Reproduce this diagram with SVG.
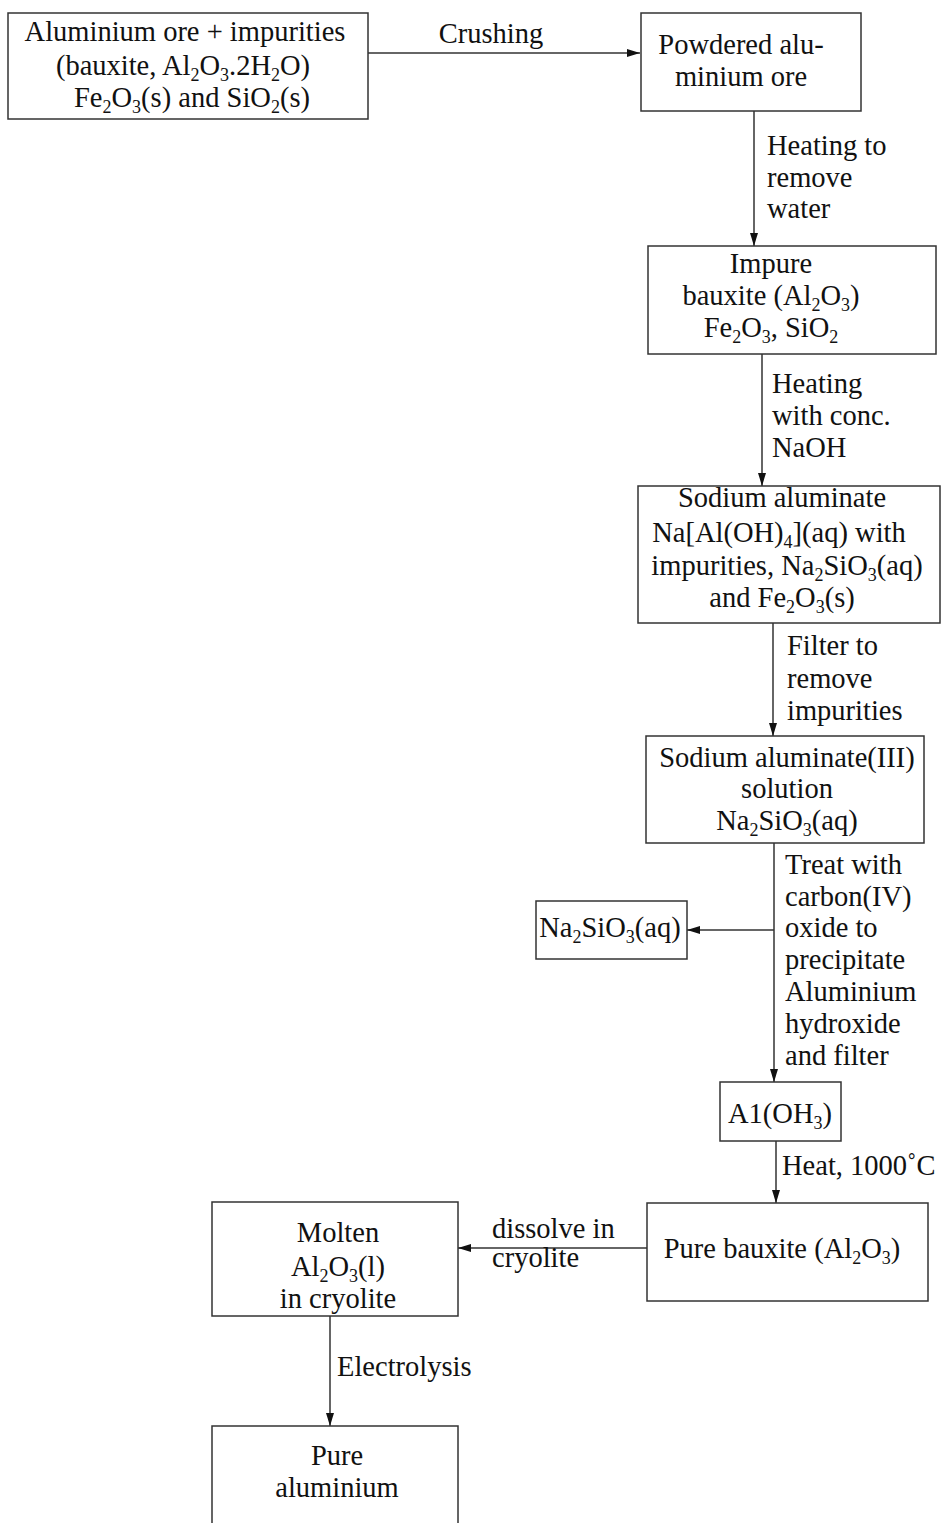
<svg xmlns="http://www.w3.org/2000/svg" width="942" height="1523" viewBox="0 0 942 1523">
<style>
text{font-family:"Liberation Serif","Times New Roman",serif;font-size:28.5px;fill:#111}
.c{text-anchor:middle}
.s{font-size:18px}
rect{fill:#fff;stroke:#333;stroke-width:1.5}
.ln{stroke:#333;stroke-width:1.5;fill:none;marker-end:url(#ah)}
</style>
<defs>
<marker id="ah" markerUnits="userSpaceOnUse" markerWidth="14" markerHeight="9" refX="13" refY="4" orient="auto">
<path d="M0,0 L13,4 L0,8 z" fill="#111"/>
</marker>
</defs>
<g id="connectors">
<line class="ln" x1="368" y1="53" x2="640" y2="53"/>
<line class="ln" x1="754" y1="111" x2="754" y2="246"/>
<line class="ln" x1="762" y1="354" x2="762" y2="486"/>
<line class="ln" x1="773" y1="623" x2="773" y2="736"/>
<line class="ln" x1="774" y1="843" x2="774" y2="1082"/>
<line class="ln" x1="774" y1="930" x2="687" y2="930"/>
<line class="ln" x1="776" y1="1141" x2="776" y2="1203"/>
<line class="ln" x1="647" y1="1248" x2="458" y2="1248"/>
<line class="ln" x1="330" y1="1316" x2="330" y2="1426"/>
<text x="491" y="43" class="c">Crushing</text>
<text x="767" y="155">Heating to</text>
<text x="767" y="187">remove</text>
<text x="767" y="218">water</text>
<text x="772" y="393">Heating</text>
<text x="772" y="425">with conc.</text>
<text x="772" y="457">NaOH</text>
<text x="787" y="655">Filter to</text>
<text x="787" y="688">remove</text>
<text x="787" y="720">impurities</text>
<text x="785" y="874">Treat with</text>
<text x="785" y="906">carbon(IV)</text>
<text x="785" y="937">oxide to</text>
<text x="785" y="969">precipitate</text>
<text x="785" y="1001">Aluminium</text>
<text x="785" y="1033">hydroxide</text>
<text x="785" y="1065">and filter</text>
<text x="782" y="1175">Heat, 1000˚C</text>
<text x="492" y="1238">dissolve in</text>
<text x="492" y="1267">cryolite</text>
<text x="337" y="1376">Electrolysis</text>
</g>
<g id="ore">
<rect x="8" y="13" width="360" height="106"/>
<text x="185" y="41" class="c">Aluminium ore + impurities</text>
<text x="183" y="75" class="c">(bauxite, Al<tspan class="s" dy="6">2</tspan><tspan dy="-6">O</tspan><tspan class="s" dy="6">3</tspan><tspan dy="-6">.2H</tspan><tspan class="s" dy="6">2</tspan><tspan dy="-6">O)</tspan></text>
<text x="192" y="107" class="c">Fe<tspan class="s" dy="6">2</tspan><tspan dy="-6">O</tspan><tspan class="s" dy="6">3</tspan><tspan dy="-6">(s) and SiO</tspan><tspan class="s" dy="6">2</tspan><tspan dy="-6">(s)</tspan></text>
</g>
<g id="powdered">
<rect x="641" y="13" width="220" height="98"/>
<text x="741" y="54" class="c">Powdered alu-</text>
<text x="741" y="86" class="c">minium ore</text>
</g>
<g id="impure">
<rect x="648" y="246" width="288" height="108"/>
<text x="771" y="273" class="c">Impure</text>
<text x="771" y="305" class="c">bauxite (Al<tspan class="s" dy="6">2</tspan><tspan dy="-6">O</tspan><tspan class="s" dy="6">3</tspan><tspan dy="-6">)</tspan></text>
<text x="771" y="337" class="c">Fe<tspan class="s" dy="6">2</tspan><tspan dy="-6">O</tspan><tspan class="s" dy="6">3</tspan><tspan dy="-6">, SiO</tspan><tspan class="s" dy="6">2</tspan></text>
</g>
<g id="aluminate">
<rect x="638" y="486" width="302" height="137"/>
<text x="782" y="507" class="c">Sodium aluminate</text>
<text x="779" y="542" class="c">Na[Al(OH)<tspan class="s" dy="6">4</tspan><tspan dy="-6">](aq) with</tspan></text>
<text x="787" y="575" class="c">impurities, Na<tspan class="s" dy="6">2</tspan><tspan dy="-6">SiO</tspan><tspan class="s" dy="6">3</tspan><tspan dy="-6">(aq)</tspan></text>
<text x="782" y="607" class="c">and Fe<tspan class="s" dy="6">2</tspan><tspan dy="-6">O</tspan><tspan class="s" dy="6">3</tspan><tspan dy="-6">(s)</tspan></text>
</g>
<g id="solution">
<rect x="646" y="736" width="278" height="107"/>
<text x="787" y="767" class="c">Sodium aluminate(III)</text>
<text x="787" y="798" class="c">solution</text>
<text x="787" y="830" class="c">Na<tspan class="s" dy="6">2</tspan><tspan dy="-6">SiO</tspan><tspan class="s" dy="6">3</tspan><tspan dy="-6">(aq)</tspan></text>
</g>
<g id="silicate">
<rect x="536" y="901" width="151" height="58"/>
<text x="610" y="937" class="c">Na<tspan class="s" dy="6">2</tspan><tspan dy="-6">SiO</tspan><tspan class="s" dy="6">3</tspan><tspan dy="-6">(aq)</tspan></text>
</g>
<g id="hydroxide">
<rect x="720" y="1082" width="121" height="59"/>
<text x="780" y="1123" class="c">A1(OH<tspan class="s" dy="6">3</tspan><tspan dy="-6">)</tspan></text>
</g>
<g id="pure-bauxite">
<rect x="647" y="1203" width="281" height="98"/>
<text x="782" y="1258" class="c">Pure bauxite (Al<tspan class="s" dy="6">2</tspan><tspan dy="-6">O</tspan><tspan class="s" dy="6">3</tspan><tspan dy="-6">)</tspan></text>
</g>
<g id="molten">
<rect x="212" y="1202" width="246" height="114"/>
<text x="338" y="1242" class="c">Molten</text>
<text x="338" y="1276" class="c">Al<tspan class="s" dy="6">2</tspan><tspan dy="-6">O</tspan><tspan class="s" dy="6">3</tspan><tspan dy="-6">(l)</tspan></text>
<text x="338" y="1308" class="c">in cryolite</text>
</g>
<g id="pure-aluminium">
<rect x="212" y="1426" width="246" height="110"/>
<text x="337" y="1465" class="c">Pure</text>
<text x="337" y="1497" class="c">aluminium</text>
</g>
</svg>
